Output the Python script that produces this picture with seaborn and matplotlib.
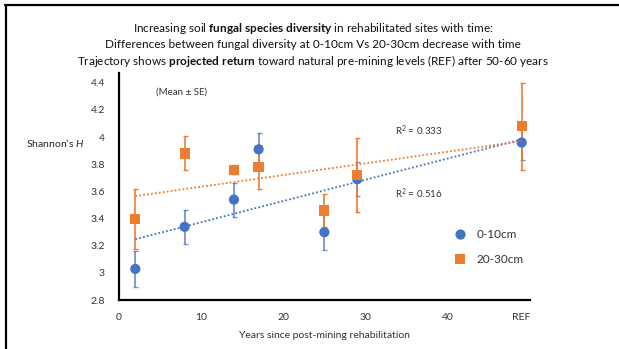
import numpy as np
import pandas as pd
import matplotlib
matplotlib.use("Agg")
import matplotlib.pyplot as plt
from matplotlib.lines import Line2D
import seaborn as sns

# ---- data ----
years = [2, 8, 14, 17, 25, 29, 49]          # 49 = REF position
shallow_mean = [3.03, 3.34, 3.54, 3.91, 3.30, 3.69, 3.96]
shallow_se = [0.13, 0.125, 0.125, 0.12, 0.13, 0.125, 0.125]
deep_mean = [3.40, 3.88, 3.76, 3.78, 3.46, 3.72, 4.08]
deep_se = [0.22, 0.125, 0.035, 0.16, 0.12, 0.27, 0.32]
series_names = ["0-10cm", "20-30cm"]
x_ticks = [0, 10, 20, 30, 40, 49]
x_ticklabels = ["0", "10", "20", "30", "40", "REF"]
y_ticks = [2.8, 3.0, 3.2, 3.4, 3.6, 3.8, 4.0, 4.2, 4.4]
y_ticklabels = ["2.8", "3", "3.2", "3.4", "3.6", "3.8", "4", "4.2", "4.4"]
r2_labels = ["R$^2$ = 0.516", "R$^2$ = 0.333"]

BLUE = "#4472C4"
ORANGE = "#ED7D31"
FONT = "Lato"

sns.set_theme(style="white")
plt.rcParams["font.family"] = [FONT, "DejaVu Sans"]
plt.rcParams["mathtext.fontset"] = "custom"
plt.rcParams["mathtext.rm"] = FONT
plt.rcParams["mathtext.it"] = FONT + ":italic"
plt.rcParams["mathtext.bf"] = FONT + ":bold"

df = pd.DataFrame({
    "Years": years * 2,
    "H": shallow_mean + deep_mean,
    "SE": shallow_se + deep_se,
    "Depth": [series_names[0]] * len(years) + [series_names[1]] * len(years),
})

fig = plt.figure(figsize=(6.19, 3.49), dpi=100)
ax = fig.add_axes([0.192, 0.140, 0.664, 0.650])

palette = {series_names[0]: BLUE, series_names[1]: ORANGE}
markers = {series_names[0]: "o", series_names[1]: "s"}

# error bars
ax.errorbar(years, shallow_mean, yerr=shallow_se, fmt="none", ecolor=BLUE,
            alpha=0.75, elinewidth=1.3, capsize=1.8, capthick=1.0, zorder=2)
ax.errorbar(years, deep_mean, yerr=deep_se, fmt="none", ecolor=ORANGE,
            elinewidth=1.2, capsize=1.8, capthick=1.0, zorder=2)

sns.scatterplot(data=df, x="Years", y="H", hue="Depth", style="Depth",
                palette=palette, markers=markers, s=54, linewidth=0,
                ax=ax, zorder=3)

# trend lines
for name, col in [(series_names[0], BLUE), (series_names[1], ORANGE)]:
    sub = df[df["Depth"] == name]
    sns.regplot(data=sub, x="Years", y="H", scatter=False, ci=None, ax=ax,
                line_kws=dict(color=col, lw=1.3, linestyle=(0, (1, 1.2)), zorder=4))

ax.set_xlim(0, 50)
ax.set_ylim(2.8, 4.47)
ax.set_xticks(x_ticks)
ax.set_xticklabels(x_ticklabels, fontsize=7.5, color="#333333")
ax.set_yticks(y_ticks)
ax.set_yticklabels(y_ticklabels, fontsize=7.5, color="#333333")
ax.tick_params(axis="x", length=0, pad=9)
ax.tick_params(axis="y", length=0, pad=10)
for side in ["top", "right"]:
    ax.spines[side].set_visible(False)
for side in ["left", "bottom"]:
    ax.spines[side].set_color("black")
    ax.spines[side].set_linewidth(1.6)

ax.set_xlabel("Years since post-mining rehabilitation", fontsize=7.5, color="#333333", labelpad=7)
ax.set_ylabel("Shannon\u2019s $\\it{H}$", fontsize=7.5, color="#222222", rotation=0)
ax.yaxis.set_label_coords(-0.155, 0.665)

ax.text(4.5, 4.33, "(Mean \u00b1 SE)", fontsize=7, color="#333333", va="center")
ax.text(33.6, 3.585, r2_labels[0], fontsize=7, color="#333333", va="center")
ax.text(33.6, 4.045, r2_labels[1], fontsize=7, color="#333333", va="center")

leg = ax.legend(loc="upper left", bbox_to_anchor=(0.775, 0.36), frameon=False,
                fontsize=8.5, labelspacing=1.2, handletextpad=0.4, markerscale=1.0)
for t in leg.get_texts():
    t.set_color("#333333")

title = ("Increasing soil $\\bf{fungal\\ species\\ diversity}$ in rehabilitated sites with time:\n"
         "Differences between fungal diversity at 0-10cm Vs 20-30cm decrease with time\n"
         "Trajectory shows $\\bf{projected\\ return}$ toward natural pre-mining levels (REF) after 50-60 years")
fig.text(0.506, 0.871, title, ha="center", va="center", fontsize=8.5,
         color="#111111", linespacing=1.25)

# outer frame (top and left)
fig.add_artist(Line2D([0.008, 1.0], [0.986, 0.986], color="black", lw=1.6,
                      transform=fig.transFigure))
fig.add_artist(Line2D([0.0097, 0.0097], [0.0, 0.986], color="black", lw=1.6,
                      transform=fig.transFigure))

fig.savefig("out.png", dpi=100)
